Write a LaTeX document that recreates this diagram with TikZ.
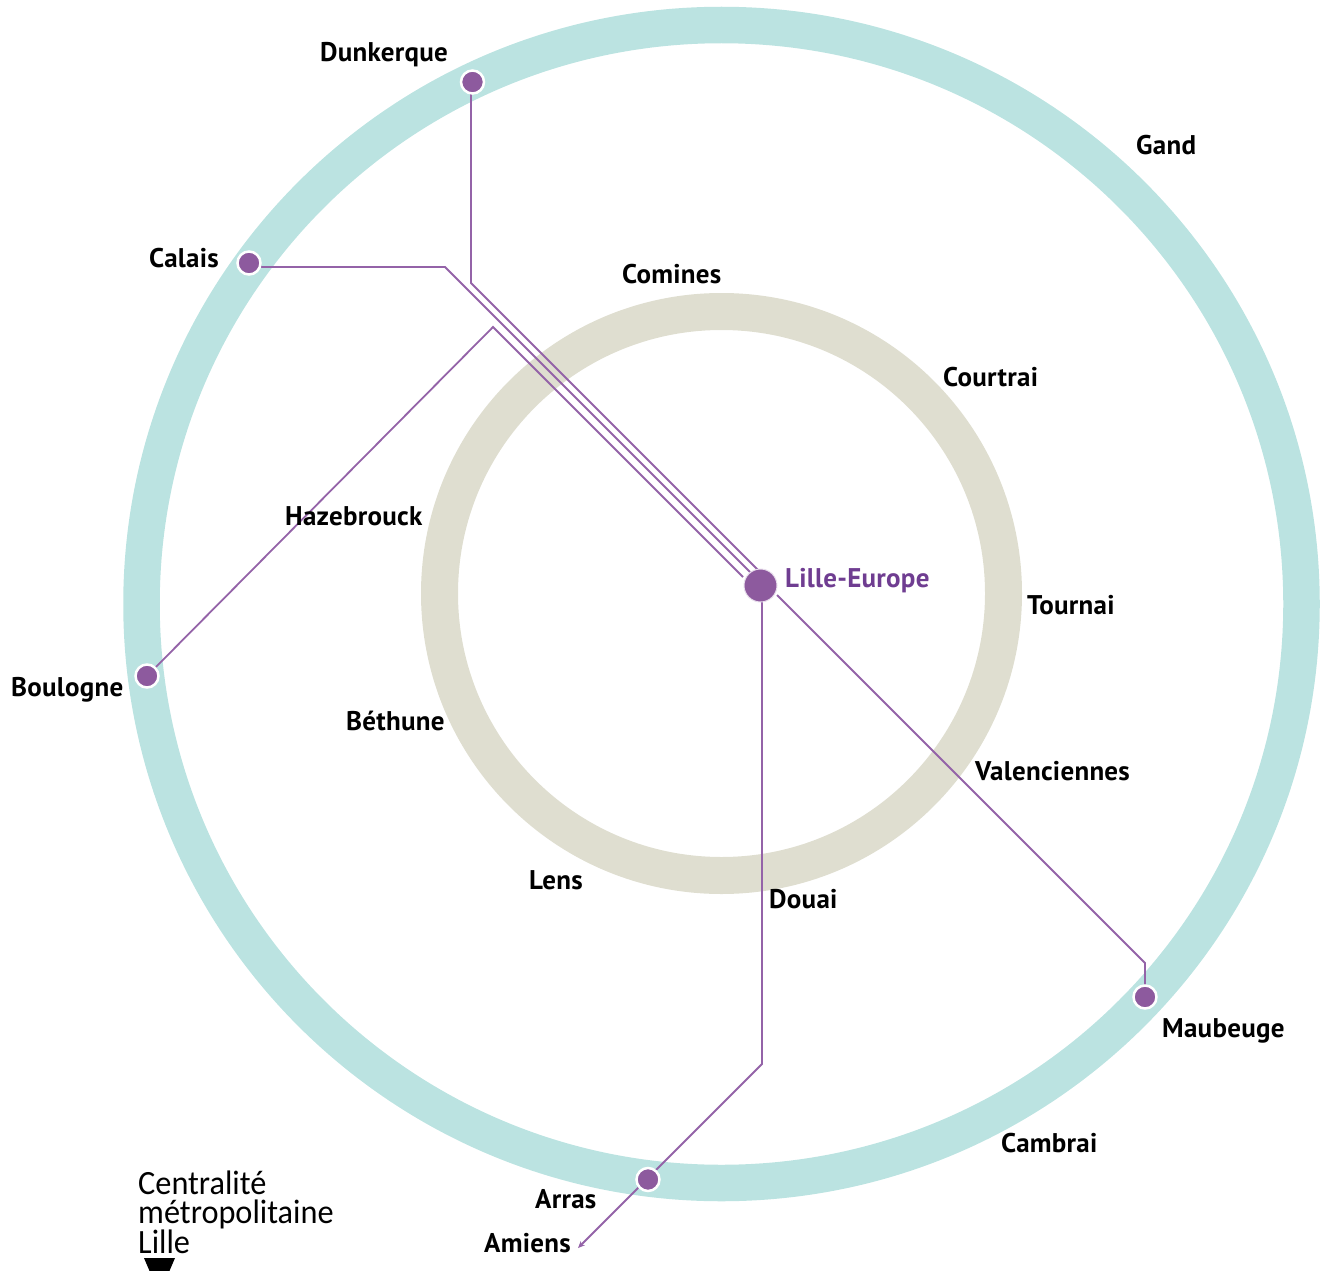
\documentclass[tikz,border=0pt]{standalone}
\usepackage{fontspec}
\setmainfont{PT Sans}
\newfontfamily\townfont[LetterSpace=1,UprightFont={* Bold}]{PT Sans}
\newfontfamily\legendfont[FakeStretch=0.95]{Carlito}
\usetikzlibrary{arrows.meta}
\definecolor{ringteal}{HTML}{BBE3E1}
\definecolor{ringbeige}{HTML}{DFDED0}
\definecolor{lineviolet}{HTML}{9463A8}
\definecolor{dotviolet}{HTML}{8D5A9E}
\definecolor{textviolet}{HTML}{6F3D91}
\pgfdeclarelayer{rings}
\pgfdeclarelayer{lines}
\pgfsetlayers{rings,lines,main}
\tikzset{
  route/.style={draw=lineviolet,line width=1.8pt,line join=miter},
  stop/.style={circle,fill=dotviolet,draw=white,line width=2.5pt,minimum size=23pt,inner sep=0pt},
  hub/.style={circle,fill=dotviolet,draw=white!80!dotviolet,line width=1pt,minimum size=33pt,inner sep=0pt},
  town/.style={font=\townfont\fontsize{27}{27}\selectfont,text=black,inner sep=0pt,anchor=base west},
  hubname/.style={town,text=textviolet},
  legend/.style={font=\legendfont\fontsize{34}{29}\selectfont,align=left,inner sep=0pt,anchor=north west,text=black}
}
\begin{document}
\begin{tikzpicture}[x=1pt,y=-1pt]
\useasboundingbox (0,0) rectangle (1320,1271);
\clip (0,0) rectangle (1320,1271);
\begin{pgfonlayer}{rings}
\draw[ringteal,line width=36.5pt] (721.5,604) ellipse [x radius=580,y radius=579];
\draw[ringbeige,line width=37pt] (721.5,593.5) circle [radius=282];
\end{pgfonlayer}
\node[hub] (lille) at (760.5,585.5) {};
\node[stop] (dunkerque) at (472.5,82) {};
\node[stop] (calais) at (249,263) {};
\node[stop] (boulogne) at (147,676) {};
\node[stop] (maubeuge) at (1145,997) {};
\node[stop] (arras) at (648,1179.5) {};
\coordinate (dunkbend) at (471,283);
\coordinate (dunkend) at (758,570);
\coordinate (calbend) at (445,267);
\coordinate (calend) at (750,572);
\coordinate (boulbend) at (493,327);
\coordinate (boulend) at (743,577);
\coordinate (maubstart) at (777,595);
\coordinate (maubbend) at (1145,963);
\coordinate (douaistart) at (762,590);
\coordinate (douaibend) at (762,1064);
\coordinate (amiens) at (578,1248);
\begin{pgfonlayer}{lines}
\draw[route] (471,82) -- (dunkbend) -- (dunkend);
\draw[route] (calais.center) -- (262,267) -- (calbend) -- (calend);
\draw[route] (boulogne.center) -- (boulbend) -- (boulend);
\draw[route] (maubstart) -- (maubbend) -- (maubeuge.center);
\draw[route,-{Stealth[length=7pt,width=6pt]}] (douaistart) -- (douaibend) -- (amiens);
\end{pgfonlayer}
\node[town] (tdunkerque) at (320,62) {Dunkerque};
\node[town] (tgand) at (1136,155) {Gand};
\node[town] (tcalais) at (149,267) {Calais};
\node[town] (tcomines) at (622,283) {Comines};
\node[town] (tcourtrai) at (943,386) {Courtrai};
\node[town] (thaze) at (285,525) {Hazebrouck};
\node[hubname] (tlille) at (785,587) {Lille-Europe};
\node[town] (ttournai) at (1027,614) {Tournai};
\node[town] (tboulogne) at (11,696) {Boulogne};
\node[town] (tbethune) at (346,730) {Béthune};
\node[town] (tvalenc) at (975,780) {Valenciennes};
\node[town] (tlens) at (529,889) {Lens};
\node[town] (tdouai) at (769,908) {Douai};
\node[town] (tmaubeuge) at (1162,1037) {Maubeuge};
\node[town] (tcambrai) at (1001,1152) {Cambrai};
\node[town] (tarras) at (535,1208) {Arras};
\node[town] (tamiens) at (484,1252) {Amiens};
\node[legend] (legendtext) at (138,1171) {Centralité\\métropolitaine\\Lille};
\fill[black] (144,1258) -- (175,1258) -- (169,1272) -- (150,1272) -- cycle;
\end{tikzpicture}
\end{document}
